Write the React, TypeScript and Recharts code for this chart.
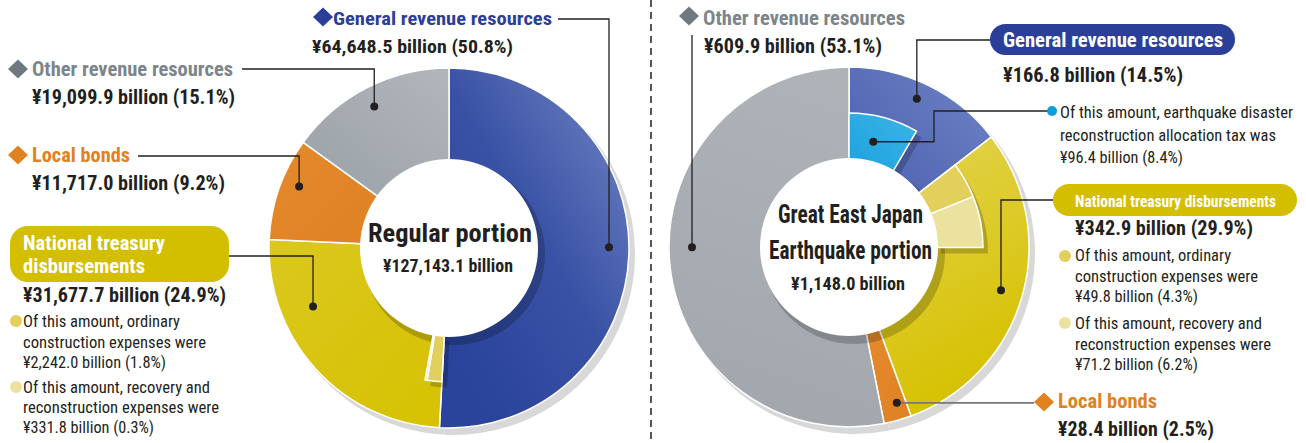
import React from 'react';
import { PieChart, Pie, Cell } from 'recharts';

// ---------- DATA ----------
const outerCategories = ['General revenue resources', 'National treasury disbursements', 'Local bonds', 'Other revenue resources'];
const regularValues = [64648.5, 31677.7, 11717.0, 19099.9]; // ¥ billion
const regularSubValues = [2242.0, 331.8]; // ordinary construction, recovery & reconstruction (within national treasury)
const quakeValues = [166.8, 342.9, 28.4, 609.9]; // ¥ billion
const quakeTaxValue = 96.4; // earthquake reconstruction allocation tax (within general revenue)
const quakeSubValues = [49.8, 71.2]; // ordinary construction, recovery & reconstruction (within national treasury)

const regularLabels = ['¥64,648.5 billion (50.8%)', '¥31,677.7 billion (24.9%)', '¥11,717.0 billion (9.2%)', '¥19,099.9 billion (15.1%)'];
const regularSubLabels = ['¥2,242.0 billion (1.8%)', '¥331.8 billion (0.3%)'];
const quakeLabels = ['¥166.8 billion (14.5%)', '¥342.9 billion (29.9%)', '¥28.4 billion (2.5%)', '¥609.9 billion (53.1%)'];
const quakeTaxLabel = '¥96.4 billion (8.4%)';
const quakeSubLabels = ['¥49.8 billion (4.3%)', '¥71.2 billion (6.2%)'];

// ---------- LAYOUT ----------
const W = 1306, H = 443;
const CXL = 449, CYL = 248, CXR = 849, CYR = 247;
const R_OUT = 180, R_IN = 89, R_SUB = 134;
const FONT = "'Liberation Sans Narrow', 'Roboto Condensed', 'DejaVu Sans Condensed', 'Liberation Sans', Arial, sans-serif";

const C = {
  text: '#231f20',
  blue: '#2b3f99',
  gray: '#7b858b',
  grayD: '#6f7a80',
  orange: '#e0821f',
  yellowBox: '#d3be00',
  subMid: '#e3cf5c',
  subLight: '#ebe2a0',
  cyan: '#0a9fdc',
};

const sum = (a: number[]) => a.reduce((s, v) => s + v, 0);

const regularInner = [
  { name: 'g', value: regularValues[0], color: 'none' },
  { name: 'ord', value: regularSubValues[0], color: C.subMid },
  { name: 'rec', value: regularSubValues[1], color: C.subLight },
  { name: 'nrest', value: regularValues[1] - sum(regularSubValues), color: 'none' },
  { name: 'l', value: regularValues[2], color: 'none' },
  { name: 'o', value: regularValues[3], color: 'none' },
];
const quakeInner = [
  { name: 'tax', value: quakeTaxValue, color: 'url(#gCyan)' },
  { name: 'grest', value: quakeValues[0] - quakeTaxValue, color: 'none' },
  { name: 'ord', value: quakeSubValues[0], color: C.subMid },
  { name: 'rec', value: quakeSubValues[1], color: C.subLight },
  { name: 'nrest', value: quakeValues[1] - sum(quakeSubValues), color: 'none' },
  { name: 'l', value: quakeValues[2], color: 'none' },
  { name: 'o', value: quakeValues[3], color: 'none' },
];
const regularOuter = outerCategories.map((n, i) => ({ name: n, value: regularValues[i] }));
const quakeOuter = outerCategories.map((n, i) => ({ name: n, value: quakeValues[i] }));
const leftFills = ['url(#gBlueL)', 'url(#gYelL)', 'url(#gOrange)', 'url(#gGrayL)'];
const rightFills = ['url(#gBlueR)', 'url(#gYelR)', 'url(#gOrange)', 'url(#gGrayR)'];

// angle (deg, counter-clockwise from 3 o'clock) at a fraction t through slice idx, slices clockwise from 12 o'clock
function angleAt(values: number[], idx: number, t: number) {
  const total = sum(values);
  const before = sum(values.slice(0, idx));
  return 90 - (360 * (before + t * values[idx])) / total;
}
function polar(cx: number, cy: number, r: number, deg: number): [number, number] {
  const a = (deg * Math.PI) / 180;
  return [cx + r * Math.cos(a), cy - r * Math.sin(a)];
}

// dots
const dL_gen = polar(CXL, CYL, 160, angleAt(regularValues, 0, 0.49));
const dL_nat = polar(CXL, CYL, 148, angleAt(regularValues, 1, 0.71));
const dL_loc = polar(CXL, CYL, 162, angleAt(regularValues, 2, 0.59));
const dL_oth = polar(CXL, CYL, 160, angleAt(regularValues, 3, 0.485));
const dR_gen = polar(CXR, CYR, 163, angleAt(quakeValues, 0, 0.47));
const dR_nat = polar(CXR, CYR, 158, angleAt(quakeValues, 1, 0.498));
const dR_loc = polar(CXR, CYR, 163, angleAt(quakeValues, 2, 0.35));
const dR_oth = polar(CXR, CYR, 157, angleAt(quakeValues, 3, 0.529));
const dR_tax = polar(CXR, CYR, 108, angleAt(quakeInner.map(d => d.value), 0, 0.43));

type TP = { x: number; y: number; w: number; size?: number; bold?: boolean; fill?: string; children: string };
const T = ({ x, y, w, size = 20, bold = true, fill = C.text, children }: TP) => (
  <text x={x} y={y} fontSize={size} fontWeight={bold ? 700 : 400} fill={fill} fontFamily={FONT}
    textLength={w} lengthAdjust="spacingAndGlyphs">{children}</text>
);
const Diamond = ({ x, y, fill }: { x: number; y: number; fill: string }) => (
  <polygon points={`${x},${y - 9.5} ${x + 10},${y} ${x},${y + 9.5} ${x - 10},${y}`} fill={fill} />
);
const Dot = ({ p }: { p: [number, number] }) => <circle cx={p[0]} cy={p[1]} r={4} fill={C.text} />;

const lineProps = { fill: 'none', stroke: C.text, strokeWidth: 1.3 };

export default function App() {
  return (
    <div style={{ position: 'absolute', left: 0, top: 0, width: W, height: H, background: '#fff', overflow: 'hidden' }}>
      <svg width={0} height={0} style={{ position: 'absolute' }}>
        <defs>
          <linearGradient id="gBlueL" x1="1" y1="0" x2="0.2" y2="0.9">
            <stop offset="0" stopColor="#7387c6" />
            <stop offset="0.55" stopColor="#3a52a5" />
            <stop offset="1" stopColor="#2a439b" />
          </linearGradient>
          <linearGradient id="gBlueR" x1="1" y1="0.2" x2="0" y2="1">
            <stop offset="0" stopColor="#6c80c2" />
            <stop offset="1" stopColor="#4a5fb0" />
          </linearGradient>
          <linearGradient id="gYelL" x1="0" y1="0" x2="1" y2="1">
            <stop offset="0" stopColor="#dbc81f" />
            <stop offset="1" stopColor="#d6c100" />
          </linearGradient>
          <linearGradient id="gYelR" x1="0" y1="0" x2="0.3" y2="1">
            <stop offset="0" stopColor="#e3d452" />
            <stop offset="1" stopColor="#d6c100" />
          </linearGradient>
          <linearGradient id="gOrange" x1="0" y1="0" x2="1" y2="1">
            <stop offset="0" stopColor="#e48a2c" />
            <stop offset="1" stopColor="#df8124" />
          </linearGradient>
          <linearGradient id="gGrayL" x1="1" y1="0" x2="0" y2="1">
            <stop offset="0" stopColor="#b1b6bb" />
            <stop offset="1" stopColor="#9aa1a7" />
          </linearGradient>
          <linearGradient id="gGrayR" x1="0.6" y1="0" x2="0.4" y2="1">
            <stop offset="0" stopColor="#aeb3b8" />
            <stop offset="1" stopColor="#a1a7ad" />
          </linearGradient>
          <linearGradient id="gCyan" x1="1" y1="0" x2="0" y2="1">
            <stop offset="0" stopColor="#3db4e6" />
            <stop offset="1" stopColor="#1ca2dd" />
          </linearGradient>
        </defs>
      </svg>
      <div style={{ position: 'absolute', left: 0, top: 0 }}>
        <PieChart width={W} height={H} margin={{ top: 0, right: 0, bottom: 0, left: 0 }}>
          {/* drop shadows of rings */}
          <Pie data={regularOuter} dataKey="value" cx={CXL + 5} cy={CYL + 6} innerRadius={0} outerRadius={R_OUT + 1}
            startAngle={90} endAngle={-270} stroke="none" fill="#d8d8d8" isAnimationActive={false} />
          <Pie data={quakeOuter} dataKey="value" cx={CXR + 5} cy={CYR + 6} innerRadius={0} outerRadius={R_OUT + 1}
            startAngle={90} endAngle={-270} stroke="none" fill="#d8d8d8" isAnimationActive={false} />
          {/* main rings */}
          <Pie data={regularOuter} dataKey="value" cx={CXL} cy={CYL} innerRadius={R_IN - 2} outerRadius={R_OUT}
            startAngle={90} endAngle={-270} stroke="#fff" strokeWidth={1.5} isAnimationActive={false}>
            {regularOuter.map((d, i) => <Cell key={d.name} fill={leftFills[i]} />)}
          </Pie>
          <Pie data={quakeOuter} dataKey="value" cx={CXR} cy={CYR} innerRadius={R_IN - 2} outerRadius={R_OUT}
            startAngle={90} endAngle={-270} stroke="#fff" strokeWidth={1.5} isAnimationActive={false}>
            {quakeOuter.map((d, i) => <Cell key={d.name} fill={rightFills[i]} />)}
          </Pie>
          {/* shadows of inner sub-slices */}
          <Pie data={regularInner} dataKey="value" cx={CXL + 5} cy={CYL + 6} innerRadius={R_IN - 2} outerRadius={R_SUB}
            startAngle={90} endAngle={-270} stroke="none" isAnimationActive={false}>
            {regularInner.map(d => <Cell key={d.name} fill={d.color === 'none' ? 'none' : 'rgba(0,0,0,0.2)'} />)}
          </Pie>
          <Pie data={quakeInner} dataKey="value" cx={CXR + 5} cy={CYR + 6} innerRadius={R_IN - 2} outerRadius={R_SUB}
            startAngle={90} endAngle={-270} stroke="none" isAnimationActive={false}>
            {quakeInner.map(d => <Cell key={d.name} fill={d.color === 'none' ? 'none' : 'rgba(0,0,0,0.2)'} />)}
          </Pie>
          {/* shadow of the centre disc */}
          <Pie data={[{ v: 1 }]} dataKey="v" cx={CXL + 5} cy={CYL + 6} innerRadius={0} outerRadius={R_IN + 2}
            stroke="none" fill="rgba(0,0,0,0.2)" isAnimationActive={false} />
          <Pie data={[{ v: 1 }]} dataKey="v" cx={CXR + 5} cy={CYR + 6} innerRadius={0} outerRadius={R_IN + 2}
            stroke="none" fill="rgba(0,0,0,0.2)" isAnimationActive={false} />
          {/* inner sub-slices */}
          <Pie data={regularInner} dataKey="value" cx={CXL} cy={CYL} innerRadius={R_IN - 2} outerRadius={R_SUB}
            startAngle={90} endAngle={-270} isAnimationActive={false}>
            {regularInner.map(d => <Cell key={d.name} fill={d.color} stroke={d.color === 'none' ? 'none' : '#fff'} strokeWidth={1.5} />)}
          </Pie>
          <Pie data={quakeInner} dataKey="value" cx={CXR} cy={CYR} innerRadius={R_IN - 2} outerRadius={R_SUB}
            startAngle={90} endAngle={-270} isAnimationActive={false}>
            {quakeInner.map(d => <Cell key={d.name} fill={d.color} stroke={d.color === 'none' ? 'none' : '#fff'} strokeWidth={1.5} />)}
          </Pie>
          {/* white centre discs */}
          <Pie data={[{ v: 1 }]} dataKey="v" cx={CXL} cy={CYL} innerRadius={0} outerRadius={R_IN}
            stroke="none" fill="#fff" isAnimationActive={false} />
          <Pie data={[{ v: 1 }]} dataKey="v" cx={CXR} cy={CYR} innerRadius={0} outerRadius={R_IN}
            stroke="none" fill="#fff" isAnimationActive={false} />
        </PieChart>
      </div>
      <svg width={W} height={H} style={{ position: 'absolute', left: 0, top: 0, pointerEvents: 'none' }}>
        {/* divider */}
        <line x1={651} y1={0} x2={651} y2={H} stroke="#555" strokeWidth={2} strokeDasharray="7 5" />

        {/* ---------- LEFT ---------- */}
        <polyline points={`558,19 ${dL_gen[0]},19 ${dL_gen[0]},${dL_gen[1]}`} {...lineProps} />
        <polyline points={`242,69 ${dL_oth[0]},69 ${dL_oth[0]},${dL_oth[1]}`} {...lineProps} />
        <polyline points={`138,156 ${dL_loc[0]},156 ${dL_loc[0]},${dL_loc[1]}`} {...lineProps} />
        <polyline points={`229,256 ${dL_nat[0]},256 ${dL_nat[0]},${dL_nat[1]}`} {...lineProps} />
        <Dot p={dL_gen} /><Dot p={dL_oth} /><Dot p={dL_loc} /><Dot p={dL_nat} />

        <Diamond x={323} y={17} fill={C.blue} />
        <T x={333} y={25} w={219} size={19} fill={C.blue}>{outerCategories[0]}</T>
        <T x={312} y={53} w={201} size={19}>{regularLabels[0]}</T>

        <Diamond x={18} y={69} fill={C.grayD} />
        <T x={32} y={76} w={201} fill={C.gray}>{outerCategories[3]}</T>
        <T x={32} y={104} w={203}>{regularLabels[3]}</T>

        <Diamond x={18} y={155} fill={C.orange} />
        <T x={32} y={162} w={98} fill={C.orange}>{outerCategories[2]}</T>
        <T x={32} y={190} w={193}>{regularLabels[2]}</T>

        <rect x={10} y={226} width={219} height={56} rx={18} fill={C.yellowBox} />
        <T x={23} y={250} w={142} fill="#fff">National treasury</T>
        <T x={23} y={273} w={122} fill="#fff">disbursements</T>
        <T x={23} y={302} w={203}>{regularLabels[1]}</T>
        <circle cx={16} cy={321} r={6} fill={C.subMid} />
        <T x={23} y={327} w={157} size={16} bold={false}>Of this amount, ordinary</T>
        <T x={23} y={348} w={183} size={16} bold={false}>construction expenses were</T>
        <T x={23} y={368} w={143} size={16} bold={false}>{regularSubLabels[0]}</T>
        <circle cx={16} cy={387} r={6} fill={C.subLight} />
        <T x={23} y={393} w={187} size={16} bold={false}>Of this amount, recovery and</T>
        <T x={23} y={413} w={196} size={16} bold={false}>reconstruction expenses were</T>
        <T x={23} y={433} w={131} size={16} bold={false}>{regularSubLabels[1]}</T>

        <T x={368} y={242} w={164} size={26}>Regular portion</T>
        <T x={383} y={272} w={130} size={18}>¥127,143.1 billion</T>

        {/* ---------- RIGHT ---------- */}
        <polyline points={`${dR_oth[0]},35 ${dR_oth[0]},${dR_oth[1]}`} {...lineProps} />
        <polyline points={`992,40 ${dR_gen[0]},40 ${dR_gen[0]},${dR_gen[1]}`} {...lineProps} />
        <polyline points={`1052,111 934,111 934,${dR_tax[1]} ${dR_tax[0]},${dR_tax[1]}`} {...lineProps} />
        <polyline points={`1053,200 ${dR_nat[0]},200 ${dR_nat[0]},${dR_nat[1]}`} {...lineProps} />
        <polyline points={`1034,${dR_loc[1]} ${dR_loc[0]},${dR_loc[1]}`} fill="none" stroke="#777" strokeWidth={1.6} />
        <Dot p={dR_oth} /><Dot p={dR_gen} /><Dot p={dR_tax} /><Dot p={dR_nat} /><Dot p={dR_loc} />

        <Diamond x={689} y={16} fill={C.grayD} />
        <T x={703} y={25} w={202} fill={C.gray}>{outerCategories[3]}</T>
        <T x={704} y={53} w={178}>{quakeLabels[3]}</T>

        <rect x={990} y={24} width={245} height={31} rx={15.5} fill={C.blue} />
        <T x={1003} y={47} w={220} fill="#fff">{outerCategories[0]}</T>
        <T x={1003} y={82} w={180}>{quakeLabels[0]}</T>

        <circle cx={1052} cy={111} r={5} fill={C.cyan} />
        <T x={1060} y={118} w={233} size={16} bold={false}>Of this amount, earthquake disaster</T>
        <T x={1060} y={141} w={216} size={16} bold={false}>reconstruction allocation tax was</T>
        <T x={1060} y={163} w={123} size={16} bold={false}>{quakeTaxLabel}</T>

        <rect x={1053} y={184} width={244} height={32} rx={16} fill={C.yellowBox} />
        <T x={1075} y={207} w={201} size={17} fill="#fff">{outerCategories[1]}</T>
        <T x={1075} y={235} w={178}>{quakeLabels[1]}</T>
        <circle cx={1065} cy={256} r={6} fill={C.subMid} />
        <T x={1075} y={261} w={156} size={16} bold={false}>Of this amount, ordinary</T>
        <T x={1075} y={282} w={183} size={16} bold={false}>construction expenses were</T>
        <T x={1075} y={302} w={123} size={16} bold={false}>{quakeSubLabels[0]}</T>
        <circle cx={1065} cy={323} r={6} fill={C.subLight} />
        <T x={1075} y={329} w={187} size={16} bold={false}>Of this amount, recovery and</T>
        <T x={1075} y={350} w={196} size={16} bold={false}>reconstruction expenses were</T>
        <T x={1075} y={370} w={123} size={16} bold={false}>{quakeSubLabels[1]}</T>

        <Diamond x={1044} y={402} fill={C.orange} />
        <T x={1058} y={408} w={99} fill={C.orange}>{outerCategories[2]}</T>
        <T x={1058} y={436} w={156}>{quakeLabels[2]}</T>

        <T x={778} y={223} w={145} size={26}>Great East Japan</T>
        <T x={769} y={259} w={163} size={26}>Earthquake portion</T>
        <T x={791} y={290} w={114} size={18}>¥1,148.0 billion</T>
      </svg>
    </div>
  );
}
